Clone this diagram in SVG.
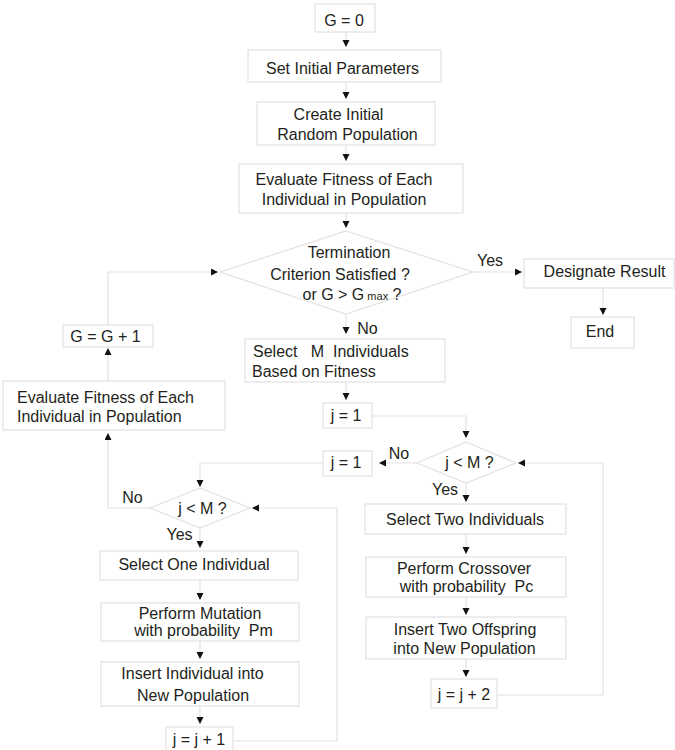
<svg xmlns="http://www.w3.org/2000/svg" width="675" height="750" viewBox="0 0 675 750">
<defs>
<marker id="ah" markerUnits="userSpaceOnUse" markerWidth="8" markerHeight="8" refX="7" refY="3.5" orient="auto">
<path d="M0,0 L7,3.5 L0,7 z" fill="#111"/>
</marker>
<style>
.box{fill:#fff;stroke:#e2e2e2;stroke-width:1.2}
.t{font-family:"Liberation Sans",Arial,sans-serif;font-size:16px;fill:#231f20;text-anchor:middle}
.s{text-anchor:start}
.c{fill:none;stroke:#e2e2e2;stroke-width:1.2;marker-end:url(#ah)}
</style>
</defs>
<rect width="675" height="750" fill="#fff"/>
<g id="connectors">
<path class="c" d="M346,32 V47"/>
<path class="c" d="M346,82 V99"/>
<path class="c" d="M346,145 V161"/>
<path class="c" d="M346,213 V228"/>
<path class="c" d="M473,272 H522"/>
<path class="c" d="M603,288 V315"/>
<path class="c" d="M346,314 V334"/>
<path class="c" d="M346,382 V400"/>
<path class="c" d="M372,416 H466 V438"/>
<path class="c" d="M417,463 H379"/>
<path class="c" d="M323,463 H200 V487"/>
<path class="c" d="M150,508 H108 V433"/>
<path class="c" d="M108,381 V348"/>
<path class="c" d="M108,325 V272 H218"/>
<path class="c" d="M466,483 V502"/>
<path class="c" d="M466,534 V554"/>
<path class="c" d="M466,597 V615"/>
<path class="c" d="M466,659 V677"/>
<path class="c" d="M497,695 H603 V463 H518"/>
<path class="c" d="M200,528 V548"/>
<path class="c" d="M200,580 V600"/>
<path class="c" d="M200,641 V659"/>
<path class="c" d="M200,706 V724"/>
<path class="c" d="M233,741 H337 V508 H252"/>
</g>
<g id="labels">
<text class="t" x="490" y="266">Yes</text>
<text class="t" x="367.5" y="334">No</text>
<text class="t" x="399" y="459">No</text>
<text class="t" x="445" y="495">Yes</text>
<text class="t" x="132.5" y="503">No</text>
<text class="t" x="179.5" y="540">Yes</text>
</g>
<g id="n_g0">
<rect class="box" x="315" y="4" width="60" height="28"/>
<text class="t" x="344" y="26">G = 0</text>
</g>
<g id="n_setparams">
<rect class="box" x="248" y="50" width="193" height="32"/>
<text class="t" x="342.5" y="74">Set Initial Parameters</text>
</g>
<g id="n_createpop">
<rect class="box" x="257" y="102" width="178" height="43"/>
<text class="t" x="338.5" y="120">Create Initial</text>
<text class="t" x="347.5" y="140">Random Population</text>
</g>
<g id="n_eval1">
<rect class="box" x="239" y="164" width="224" height="49"/>
<text class="t" x="344" y="185">Evaluate Fitness of Each</text>
<text class="t" x="344" y="205">Individual in Population</text>
</g>
<g id="n_term">
<polygon class="box" points="346,231 473,272 346,314 220,272"/>
<text class="t" x="349" y="258">Termination</text>
<text class="t" x="340" y="280">Criterion Satisfied ?</text>
<text class="t" x="352" y="300">or G &gt; G<tspan font-size="11"> max</tspan> ?</text>
</g>
<g id="n_designate">
<rect class="box" x="524" y="259" width="150" height="29"/>
<text class="t" x="604.5" y="277">Designate Result</text>
</g>
<g id="n_end">
<rect class="box" x="571" y="317" width="63" height="31"/>
<text class="t" x="600" y="337">End</text>
</g>
<g id="n_select">
<rect class="box" x="245" y="339" width="200" height="43"/>
<text class="t s" x="253" y="357" xml:space="preserve">Select   M  Individuals</text>
<text class="t s" x="252" y="377">Based on Fitness</text>
</g>
<g id="n_j1a">
<rect class="box" x="323" y="403" width="49" height="25"/>
<text class="t" x="346" y="421">j = 1</text>
</g>
<g id="n_jltm_r">
<polygon class="box" points="466,442 516,463 466,483 417,463"/>
<text class="t" x="469.5" y="468">j &lt; M ?</text>
</g>
<g id="n_j1b">
<rect class="box" x="323" y="451" width="49" height="25"/>
<text class="t" x="346" y="468">j = 1</text>
</g>
<g id="n_seltwo">
<rect class="box" x="365" y="504" width="201" height="30"/>
<text class="t" x="465" y="525">Select Two Individuals</text>
</g>
<g id="n_crossover">
<rect class="box" x="366" y="557" width="200" height="40"/>
<text class="t" x="464" y="574">Perform Crossover</text>
<text class="t" x="466.5" y="592" xml:space="preserve">with probability  Pc</text>
</g>
<g id="n_inserttwo">
<rect class="box" x="366" y="617" width="200" height="42"/>
<text class="t" x="465" y="635">Insert Two Offspring</text>
<text class="t" x="464.5" y="654">into New Population</text>
</g>
<g id="n_jj2">
<rect class="box" x="431" y="679" width="66" height="29"/>
<text class="t" x="464" y="700">j = j + 2</text>
</g>
<g id="n_gg1">
<rect class="box" x="63" y="325" width="90" height="22"/>
<text class="t" x="105.5" y="342">G = G + 1</text>
</g>
<g id="n_eval2">
<rect class="box" x="3" y="381" width="222" height="49"/>
<text class="t s" x="17" y="403">Evaluate Fitness of Each</text>
<text class="t s" x="17" y="422">Individual in Population</text>
</g>
<g id="n_jltm_l">
<polygon class="box" points="200,488 250,508 200,528 150,508"/>
<text class="t" x="202.5" y="514">j &lt; M ?</text>
</g>
<g id="n_selone">
<rect class="box" x="100" y="551" width="198" height="29"/>
<text class="t" x="194" y="570">Select One Individual</text>
</g>
<g id="n_mutation">
<rect class="box" x="101" y="603" width="198" height="38"/>
<text class="t" x="200" y="619">Perform Mutation</text>
<text class="t" x="203.5" y="636" xml:space="preserve">with probability  Pm</text>
</g>
<g id="n_insertone">
<rect class="box" x="101" y="662" width="198" height="44"/>
<text class="t" x="192.5" y="679">Insert Individual into</text>
<text class="t" x="193" y="701">New Population</text>
</g>
<g id="n_jj1">
<rect class="box" x="166" y="727" width="67" height="30"/>
<text class="t" x="199" y="745">j = j + 1</text>
</g>
</svg>
